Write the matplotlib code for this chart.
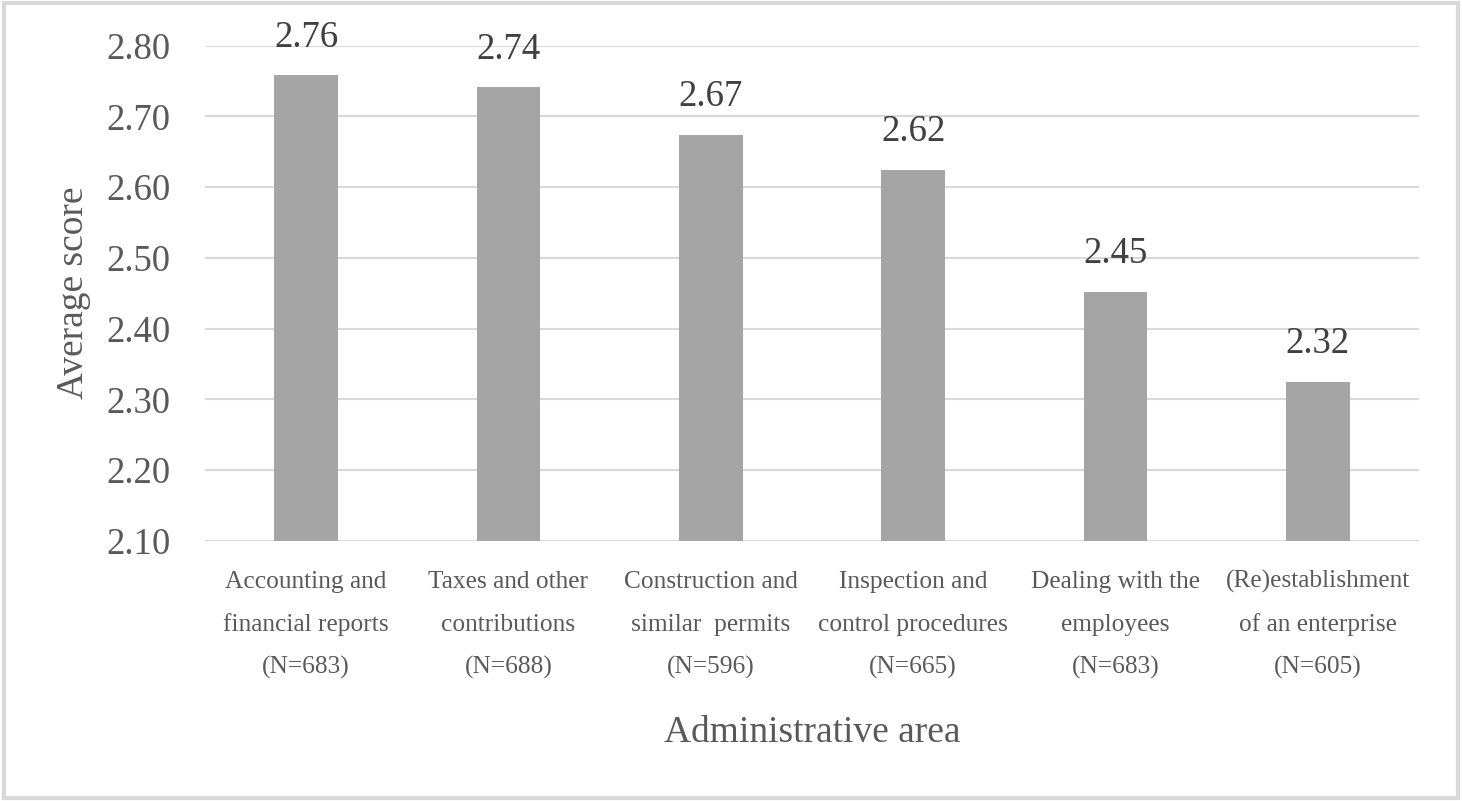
import numpy as np
import matplotlib.pyplot as plt
from matplotlib.patches import Rectangle
from matplotlib.transforms import blended_transform_factory, offset_copy

## Data

areas = [
    "Accounting and\nfinancial reports\n(N=683)",
    "Taxes and other\ncontributions\n(N=688)",
    "Construction and\nsimilar  permits\n(N=596)",
    "Inspection and\ncontrol procedures\n(N=665)",
    "Dealing with the\nemployees\n(N=683)",
    "(Re)establishment\nof an enterprise\n(N=605)",
]
scores = [2.758, 2.741, 2.674, 2.624, 2.452, 2.324]
y_ticks = [2.10, 2.20, 2.30, 2.40, 2.50, 2.60, 2.70, 2.80]

## Style

plt.rcParams['font.family'] = ['Liberation Serif', 'DejaVu Serif']
text_col = "#595959"
bar_col = "#a5a5a5"
grid_col = "#d9d9d9"

fig = plt.figure(figsize=(14.62, 8.01), dpi=100)
ax = fig.add_axes([205/1462, 1 - 540.7/801, (1419 - 205)/1462, (540.7 - 45.7)/801])

x = np.arange(len(areas))
ax.bar(x, scores, width=0.315, color=bar_col, zorder=2)

# value labels above bars
for xi, v in zip(x, scores):
    ax.annotate(f"{v:.2f}", (xi, v), xytext=(0, 15), textcoords="offset points",
                ha="center", va="bottom", fontsize=26.5, color="#404040")

ax.set_xlim(-0.5, len(areas) - 0.5)
ax.set_ylim(y_ticks[0], y_ticks[-1])
ax.set_yticks(y_ticks)
ax.set_yticklabels([f"{t:.2f}" for t in y_ticks], fontsize=26.5, color=text_col)
ax.set_xticks(x)
ax.tick_params(axis='y', length=0, pad=25)
ax.tick_params(axis='x', length=0, labelbottom=False)

# category labels, one text per line so the rows share a baseline
trans = blended_transform_factory(ax.transData, ax.transAxes)
for xi, lab in zip(x, areas):
    for k, line in enumerate(lab.split("\n")):
        t = offset_copy(trans, fig=fig, x=0, y=-(34 + 31 * k), units='points')
        ax.text(xi, 0, line, transform=t, ha="center", va="baseline",
                fontsize=18.3, color=text_col)

ax.grid(axis='y', color=grid_col, linewidth=1.5, zorder=0)
ax.set_axisbelow(True)
for s in ax.spines.values():
    s.set_visible(False)

ax.set_xlabel("Administrative area", fontsize=27, color=text_col)
ax.xaxis.set_label_coords(0.5, -0.354)
ax.set_ylabel("Average score", fontsize=27, color=text_col, labelpad=11)

# light frame round the whole chart
fig.patches.append(Rectangle((0.003, 0.004), 0.994, 0.992, transform=fig.transFigure,
                             fill=False, edgecolor=grid_col, linewidth=3))

fig.savefig("out.png", dpi=100)
